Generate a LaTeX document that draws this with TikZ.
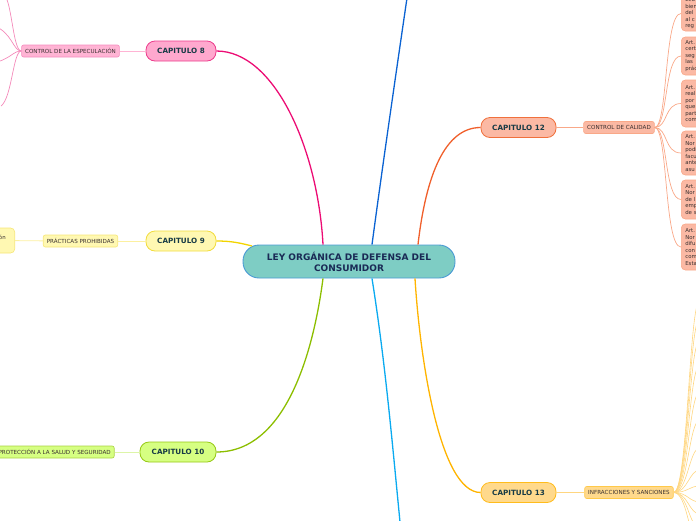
\documentclass[tikz,border=0pt]{standalone}
\usepackage{fontspec}
\setmainfont{DejaVu Sans}
\definecolor{cenfill}{HTML}{7ECDC4}
\definecolor{cenline}{HTML}{4A9AD4}
\definecolor{navy}{HTML}{1A2A55}
\definecolor{captext}{HTML}{163A45}
\definecolor{pinkmain}{HTML}{EC0C74}
\definecolor{pinkfill}{HTML}{FFA8CE}
\definecolor{pinkbord}{HTML}{EC3C8C}
\definecolor{pinklight}{HTML}{FFB4D4}
\definecolor{pinklbord}{HTML}{F58CBE}
\definecolor{yelmain}{HTML}{F2D400}
\definecolor{yelfill}{HTML}{FFF8B2}
\definecolor{yelbord}{HTML}{F2DC3C}
\definecolor{yellight}{HTML}{FCF0A0}
\definecolor{grnmain}{HTML}{8CBE00}
\definecolor{grnfill}{HTML}{D6FF82}
\definecolor{grnbord}{HTML}{96C814}
\definecolor{grnlight}{HTML}{DDF5A8}
\definecolor{salmain}{HTML}{F0602C}
\definecolor{salfill}{HTML}{FBB9A4}
\definecolor{salbord}{HTML}{F0703C}
\definecolor{sallight}{HTML}{F9A888}
\definecolor{ormain}{HTML}{FFB400}
\definecolor{orfill}{HTML}{FFD98C}
\definecolor{orbord}{HTML}{FFBC1C}
\definecolor{orlight}{HTML}{FFD680}
\definecolor{bluemain}{HTML}{0A62D2}
\definecolor{cyanmain}{HTML}{0AAAF0}
\definecolor{lbltext}{HTML}{3A3030}
\tikzset{
  central/.style={draw=cenline, fill=cenfill, line width=0.9pt, rounded corners=16pt,
    minimum width=212pt, minimum height=33pt, inner sep=0pt, align=center,
    text=navy, font=\fontsize{9}{11}\selectfont\bfseries},
  capbox/.style={line width=0.8pt, rounded corners=9pt, minimum width=70pt,
    minimum height=20pt, inner sep=0pt, text=captext,
    font=\fontsize{7.2}{8.5}\selectfont\bfseries},
  lblbox/.style={line width=0.6pt, rounded corners=2pt, minimum height=12pt,
    inner xsep=3.5pt, inner ysep=0pt, text=lbltext, font=\fontsize{5.6}{6.5}\selectfont},
  artbox/.style={draw=sallight, fill=salfill, line width=0.6pt, rounded corners=4pt,
    anchor=west, text width=60pt, inner xsep=4pt, inner ysep=0pt, align=left,
    text=lbltext, font=\fontsize{5.4}{6.5}\selectfont},
  mainline/.style={line width=1.3pt},
  subline/.style={line width=0.9pt},
  thinline/.style={line width=0.5pt}
}
\begin{document}
\begin{tikzpicture}[x=1pt,y=-1pt]
\useasboundingbox (0,0) rectangle (696,520);
\clip (0,0) rectangle (696,520);

% coordinates for off-picture ends
\coordinate (topend) at (407,-2);
\coordinate (botend) at (400,522);
\coordinate (p1) at (4,-6);
\coordinate (p2) at (-6,26);
\coordinate (p3) at (-6,63);
\coordinate (p4) at (1,106);

% nodes
\node[central] (c) at (349,261.5) {LEY ORGÁNICA DE DEFENSA DEL\\CONSUMIDOR};

\node[capbox, draw=pinkbord, fill=pinkfill] (c8) at (181,51) {CAPITULO 8};
\node[lblbox, draw=pinklbord, fill=pinklight] (l8) at (70.5,51) {CONTROL DE LA ESPECULACIÓN};

\node[capbox, draw=yelbord, fill=yelfill] (c9) at (181,241) {CAPITULO 9};
\node[lblbox, draw=yelbord!70, fill=yelfill] (l9) at (80.5,241) {PRÁCTICAS PROHIBIDAS};
\node[draw=yelbord!70, fill=yelfill, line width=0.6pt, rounded corners=4pt, anchor=east,
  minimum height=25pt, text width=50pt, align=right, inner xsep=9pt, inner ysep=0pt,
  text=lbltext, font=\fontsize{5.4}{6.5}\selectfont] (l9b) at (15,240.5) {ón\\~};

\node[capbox, draw=grnbord, fill=grnfill, minimum width=76pt] (c10) at (178,452) {CAPITULO 10};
\node[lblbox, draw=grnbord!80, fill=grnfill, anchor=east] (l10) at (114.5,452) {PROTECCIÓN A LA SALUD Y SEGURIDAD};

\node[capbox, draw=salbord, fill=salfill, minimum width=75pt] (c12) at (518.5,127.5) {CAPITULO 12};
\node[lblbox, draw=sallight, fill=salfill] (l12) at (619,127.5) {CONTROL DE CALIDAD};

\node[capbox, draw=orbord, fill=orfill, minimum width=75pt] (c13) at (518.5,492.5) {CAPITULO 13};
\node[lblbox, draw=orbord!80, fill=orfill] (l13) at (629,492.5) {INFRACCIONES Y SANCIONES};

\node[artbox, minimum height=35pt] (a1) at (681,13.5) {Ecu\\bien\\del\\al c\\reg};
\node[artbox, minimum height=38pt] (a2) at (681,56) {Art.\\cert\\seg\\las\\prác};
\node[artbox, minimum height=47pt] (a3) at (681,103.5) {Art.\\reali\\por\\que\\part\\com};
\node[artbox, minimum height=44pt] (a4) at (681,153) {Art.\\Nor\\podi\\facu\\ante\\asu};
\node[artbox, minimum height=39pt] (a5) at (681,199.5) {Art.\\Nor\\de l\\emp\\de s};
\node[artbox, minimum height=46pt] (a6) at (681,247) {Art.\\Nor\\difu\\con\\com\\Esta};

% main connectors
\draw[mainline, pinkmain] (c8.east) .. controls (275,51) and (318,150) .. (c.north west -| 323,0);
\draw[mainline, yelmain] (c9.east) .. controls (232,241) and (240,243) .. (252,246);
\draw[mainline, grnmain] (c.south west -| 323,0) .. controls (315,340) and (290,452) .. (c10.east);
\draw[mainline, salmain] (c.north east -| 418,0) .. controls (426,175) and (445,127.5) .. (c12.west);
\draw[mainline, ormain] (c.south east -| 415,0) .. controls (420,360) and (440,492.5) .. (c13.west);
\draw[mainline, bluemain] (c.north -| 372,0) .. controls (382,170) and (395,80) .. (topend);
\draw[mainline, cyanmain] (c.south -| 372,0) .. controls (385,360) and (392,440) .. (botend);

% label connectors
\draw[subline, pinklight] (l8) -- (c8);
\draw[subline, yellight] (l9) -- (c9);
\draw[subline, yellight] (l9b) -- (l9);
\draw[subline, grnlight] (l10) -- (c10);
\draw[subline, sallight] (l12) -- (c12);
\draw[subline, orlight] (l13) -- (c13);

% pink fan
\foreach \t/\ya/\yb in {p1/51/2, p2/51/32, p3/51/58, p4/51/98}
  \draw[thinline, pinkbord!60, line width=0.7pt] (l8.west) .. controls (13,\ya) and (12,\yb) .. (\t);

% salmon fan
\foreach \b in {a1,a2,a3,a4,a5,a6}
  \draw[thinline, sallight, line width=0.7pt] (l12.east) .. controls (668,127.5) and (664,0 |- \b.west) .. (\b.west);

% orange fan
\foreach \y in {300,318,340,365,392,420,448,470,486,502,514,528,545}
  \draw[thinline, orlight, line width=0.6pt] (l13.east) .. controls (688,492.5) and (689,\y) .. (700,\y);
\end{tikzpicture}
\end{document}
